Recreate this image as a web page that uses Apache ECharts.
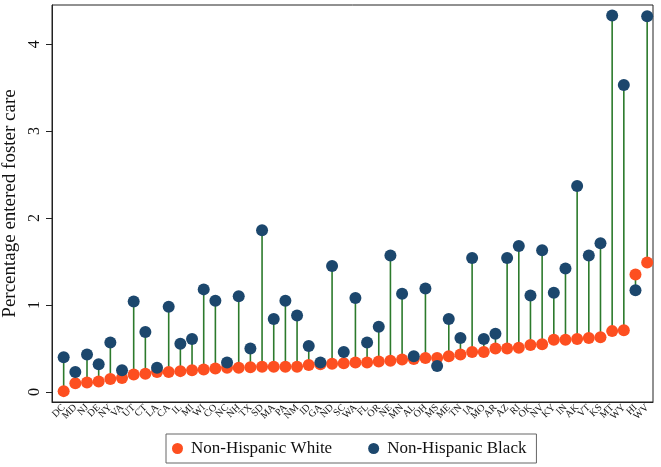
<!DOCTYPE html>
<html lang="en" style="height: 100%">
<head>
<meta charset="utf-8">
<title>Foster care entry by state</title>
</head>
<body style="height: 100%; margin: 0; background: #fff">
<div id="container" style="width: 661px; height: 467px"></div>
<script type="text/javascript" src="https://cdn.jsdelivr.net/npm/echarts@6/dist/echarts.min.js"></script>
<script type="text/javascript">

var states = ['DC', 'MD', 'NJ', 'DE', 'NY', 'VA', 'UT', 'CT', 'LA', 'CA', 'IL', 'MI', 'WI', 'CO', 'NC', 'NH', 'TX',
    'SD', 'MA', 'PA', 'NM', 'ID', 'GA', 'ND', 'SC', 'WA', 'FL', 'OR', 'NE', 'MN', 'AL', 'OH', 'MS', 'ME', 'TN',
    'IA', 'MO', 'AR', 'AZ', 'RI', 'OK', 'NV', 'KY', 'IN', 'AK', 'VT', 'KS', 'MT', 'WY', 'HI', 'WV'];

var white = [0.01, 0.10, 0.11, 0.12, 0.15, 0.16, 0.20, 0.21, 0.23, 0.23, 0.24, 0.25, 0.26, 0.27, 0.28, 0.28, 0.285,
    0.29, 0.29, 0.29, 0.29, 0.31, 0.32, 0.325, 0.33, 0.34, 0.34, 0.35, 0.36, 0.375, 0.38, 0.39, 0.39, 0.41, 0.43,
    0.46, 0.46, 0.50, 0.50, 0.51, 0.54, 0.55, 0.60, 0.60, 0.61, 0.62, 0.63, 0.70, 0.71, 1.35, 1.49];

var black = [0.40, 0.23, 0.43, 0.32, 0.57, 0.25, 1.04, 0.69, 0.28, 0.98, 0.555, 0.61, 1.18, 1.05, 0.34, 1.10, 0.50,
    1.86, 0.84, 1.05, 0.88, 0.53, 0.34, 1.45, 0.46, 1.08, 0.57, 0.75, 1.57, 1.13, 0.41, 1.19, 0.30, 0.84, 0.62,
    1.54, 0.61, 0.67, 1.54, 1.68, 1.11, 1.63, 1.14, 1.42, 2.37, 1.57, 1.71, 4.33, 3.53, 1.17, 4.32];

var yTicks = [0, 1, 2, 3, 4];

var serif = 'Liberation Serif';
var orange = '#fd4f20';
var navy = '#1c476d';

var stems = states.map(function (s, i) { return [i, white[i], black[i]]; });

var chart = echarts.init(document.getElementById('container'));

var option = {
    animation: false,
    backgroundColor: '#fff',
    grid: {
        left: 52, right: 8, top: 5, bottom: 65,
        outerBoundsMode: 'none',
        containLabel: false,
        show: true, borderColor: '#222', borderWidth: 1
    },
    legend: {
        left: 166, top: 434,
        padding: [6, 10, 6, 6],
        itemGap: 36,
        itemWidth: 11, itemHeight: 11,
        borderColor: '#666', borderWidth: 1,
        icon: 'circle',
        data: ['Non-Hispanic White', 'Non-Hispanic Black'],
        textStyle: { fontFamily: serif, fontSize: 17, color: '#111', padding: [0, 0, 0, 3] }
    },
    xAxis: {
        type: 'value',
        min: -1, max: 50.5,
        interval: 1,
        splitLine: { show: false },
        axisTick: { show: false },
        axisLine: { show: true, onZero: false, lineStyle: { color: '#222', width: 1 } },
        axisLabel: {
            rotate: 45,
            margin: 4,
            fontFamily: serif, fontSize: 10, color: '#111',
            showMinLabel: false, showMaxLabel: false,
            formatter: function (v) { return (v >= 0 && v < states.length && v % 1 === 0) ? states[v] : ''; }
        }
    },
    yAxis: {
        type: 'value',
        min: -0.115, max: 4.45,
        name: 'Percentage entered foster care',
        nameLocation: 'middle',
        nameGap: 28,
        nameTextStyle: { fontFamily: serif, fontSize: 19, color: '#111' },
        splitLine: { show: false },
        axisLine: { show: true, onZero: false, lineStyle: { color: '#222', width: 1 } },
        axisTick: { show: true, length: 6, customValues: yTicks, lineStyle: { color: '#222' } },
        axisLabel: {
            customValues: yTicks,
            rotate: 90,
            margin: 9,
            fontFamily: serif, fontSize: 16, color: '#111'
        }
    },
    series: [
        {
            type: 'custom',
            name: 'stems',
            data: stems,
            z: 1,
            renderItem: function (params, api) {
                var a = api.coord([api.value(0), api.value(1)]);
                var b = api.coord([api.value(0), api.value(2)]);
                return {
                    type: 'line',
                    shape: { x1: a[0], y1: a[1], x2: b[0], y2: b[1] },
                    style: { stroke: '#2c7a2c', lineWidth: 1.6 }
                };
            }
        },
        {
            type: 'scatter',
            name: 'Non-Hispanic White',
            z: 2,
            symbolSize: 12,
            itemStyle: { color: orange, opacity: 1 },
            data: white.map(function (v, i) { return [i, v]; })
        },
        {
            type: 'scatter',
            name: 'Non-Hispanic Black',
            z: 3,
            symbolSize: 12,
            itemStyle: { color: navy, opacity: 1 },
            data: black.map(function (v, i) { return [i, v]; })
        }
    ]
};

chart.setOption(option);
window.addEventListener('resize', chart.resize);
</script>
</body>
</html>
